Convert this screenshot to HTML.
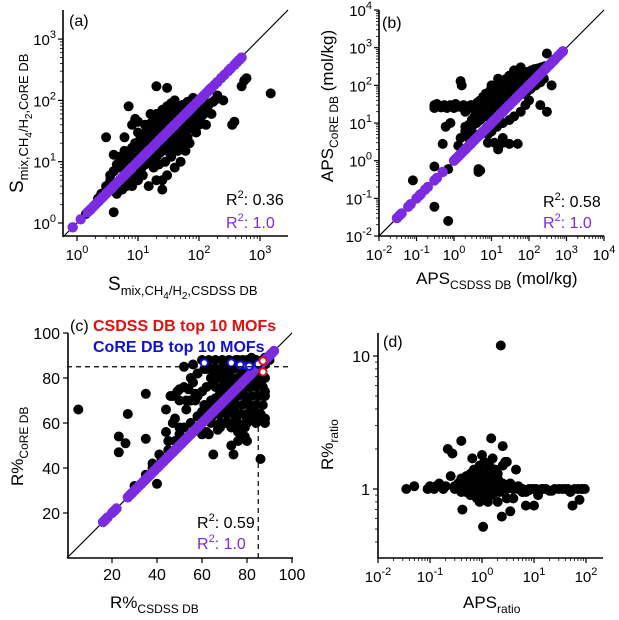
<!DOCTYPE html>
<html><head><meta charset="utf-8">
<style>
html,body{margin:0;padding:0;background:#fff;}
svg{display:block;font-family:"Liberation Sans",Arial,sans-serif;}
</style></head>
<body>
<svg id="fig" width="619" height="620" viewBox="0 0 619 620" xmlns="http://www.w3.org/2000/svg">
<g id="pa"></g>
<g id="pb"></g>
<g id="pc"></g>
<g id="pd"></g>
</svg>
<script>
// ---------- data ----------
const aBlackX=[3,4,7,20,30,1500,550,600,500,350,380,250,200,25,10,8,5,6,4,5,7,8,9,10,12,15,18,20,25,30,35,40,50,60,70,80,100,120,90,70,60,50,40,30,25,20,15,12,10,10,12,15,20,25,30,35,40,50,15,20,25,30,40,50,60,80,100,3,3.5,2.5,5,6,8,10,12,18,22,28,35,45,55,65,75,90,110,130,150,180,6,9,13,16,22,28,45,55,70,30,20,12,8,6,40,60,15,25,35,45,130,160,110,14,17,11,7,1.4,2.2,3,
 4,5,6,7,8,9,11,13,16,19,23,27,32,38,45,55,65,80,4.5,5.5,6.5,7.5,8.5,10,11.5,13,15,17,20,24,28,33,39,47,57,68,6,7,8,9,10,11,13,15,17,20,23,27,32,38,45,53,62,75,5,6,7,9,11,13,16,19,23,28,34,41,50,60,72,85,3.5,4,4.5,5.5,12,14,16,18,21,24,26,29,33,37,42,48,52,58,63,75,85,95,140,170,200,7,9,11,13,16,19,23,27,31,36];
const aBlackY=[25,1.5,80,170,160,130,210,230,170,40,45,100,120,3.5,45,40,12,15,13,8,10,6,20,30,25,35,50,60,70,80,90,100,70,80,60,50,40,60,30,20,15,10,8,6,5,5,4,6,8,12,15,18,25,30,40,45,50,60,10,12,15,20,25,30,40,70,80,4,6,3,5,4,4,5,10,8,9,10,12,15,20,25,35,45,55,70,90,100,25,50,40,60,45,55,35,45,45,30,20,20,12,8,40,60,25,20,25,20,40,60,100,30,14,9,6,1.4,2.5,3.5,
 7,9,11,14,17,20,24,28,33,38,44,50,58,66,75,85,95,110,3,3.5,4,5,6,7,8,9,10,11,13,15,17,20,23,27,32,38,5,6,7,8,9,10,11,13,15,17,19,22,25,29,33,38,44,50,10,12,14,17,20,24,28,33,38,44,50,58,66,75,85,95,5,7,9,10,28,35,42,50,22,26,18,33,14,17,24,20,27,30,38,48,55,65,80,95,110,6,7,8,9,10,12,14,16,18,21];
const aPurple=[0.85,1.15,1.5,1.6,1.7,1.85,2,2.15,2.3,2.5,2.7,3,3.2,3.5,3.8,4,4.5,5,5.5,6,6.5,7,7.5,8,9,10,11,12,13,14,15,16,18,20,22,23,25,26,28,30,33,35,38,40,45,50,55,60,65,70,75,80,90,100,110,120,130,140,150,160,180,200,230,260,300,330,380,420,460,500];
const bBlackX=[0.3,0.3,0.4,0.5,0.6,0.8,1,0.3,0.7,0.5,0.08,0.3,0.7,1.5,1.6,4.5,4.5,5,0.8,0.6,1.3,15,20,30,50,15,300,400,300,200,1.2,2,3,2,3,4,5,6,8,10,12,15,20,25,30,40,50,60,80,100,120,150,200,5,6,8,10,12,15,20,25,30,40,50,60,80,100,150,3,4,5,7,9,12,18,25,35,45,70,90,110,140,180,250,8,10,14,20,30,40,60,80,100,2.5,3.5,1.5,2,10,15,25,40,60,12,20,8,
 0.35,0.45,0.55,0.65,0.9,1.1,1.4,1.8,2.2,2.8,3.5,4.2,5.5,7,9,11,14,17,22,28,35,45,55,70,90,120,160,6,7,9,11,13,16,19,23,27,32,38,45,55,65,80,95,115,140,170,210,260,4,5,6,7,8,10,12,14,17,20,24,29,35,42,50,60,75,90,110,130,160,3,4,5,6,8,10,12,14,17,21,26,32,40,50,65,85,7,9,12,15,18,22,27,33,40,48,58,70,2,2.5,3,3.5];
const bBlackY=[30,25,28,27,28,30,25,0.06,0.025,2.8,0.3,0.7,0.6,130,100,0.6,0.5,0.55,10,8,2.5,2.5,3,2.8,2.8,2,700,100,20,30,30,28,30,20,25,30,40,50,60,70,80,100,120,150,180,200,220,250,200,180,160,150,120,15,20,25,30,40,50,60,70,80,100,120,150,150,150,100,8,10,12,15,18,20,25,30,40,50,60,70,80,100,120,150,5,6,8,10,12,15,20,30,40,4,5,4,6,100,150,130,250,300,3,4,3,
 32,26,30,25,28,32,27,30,26,30,28,35,30,28,32,30,35,40,45,55,60,70,80,90,110,130,170,40,50,60,70,80,90,100,110,120,130,140,150,170,190,210,230,250,270,280,300,320,20,25,30,35,40,45,50,55,60,70,80,90,100,110,120,130,140,150,160,170,180,12,14,16,18,20,23,26,30,34,38,45,52,60,70,80,95,60,70,80,90,100,110,120,130,140,150,160,170,8,9,12,15];
const bPurple=[0.03,0.035,0.04,0.06,0.07,0.1,0.12,0.13,0.17,0.2,0.3,0.35,0.5,1,1.1,1.2,1.35,1.5,1.7,2,2.2,2.5,2.8,3,3.5,4,4.5,5,5.5,6,7,8,9,10,11,12,13,15,17,18,20,22,25,28,30,35,40,45,50,55,60,70,80,90,100,110,120,135,150,165,180,200,225,250,275,300,350,400,450,500,600,700,800];
const cBlackX=[5,27,23,23,26,35,35,40,45,44,47,50,86,80,74,65,73,60,52,56,18,30,35,38,42,45,48,50,52,55,58,60,62,64,66,68,70,72,74,76,78,80,82,84,86,88,55,58,60,62,65,68,70,72,75,78,80,82,84,86,88,60,63,66,69,72,75,78,81,84,87,50,55,60,65,70,75,80,85,88,58,64,70,76,82,88,62,68,74,80,86,66,72,78,84,90,56,48,53,57,63,67,71,76,79,83,
 60,63,66,69,72,75,78,81,84,87,62,65,68,71,74,77,80,83,86,64,67,70,73,76,79,82,85,88,66,69,72,75,78,81,84,87,70,73,76,79,82,85,88,72,75,78,81,84,87,55,58,61,64,67,70,46,49,52,55,58,61,64,67,70,73,76,79,68,71,74,77,80,83,86,60,64,68,72,76,80,84,88,64,68,72,76,80,84,88,54,57,53,50,47,44,41,38];
const cBlackY=[66,64,54,47,51,73,53,33,52,66,72,75,44,52,46,46,50,55,85,86,18,32,37,40,44,48,52,55,58,60,63,65,67,69,71,73,75,77,79,80,82,83,84,85,86,88,70,72,74,76,78,80,82,84,86,87,88,89,88,87,86,62,64,66,68,70,72,74,76,78,80,58,60,62,64,66,68,70,72,74,82,84,86,88,88,89,56,58,60,62,64,84,86,84,86,88,78,62,66,70,55,57,60,52,58,65,
 88,88,88,88,88,88,88,88,88,88,84,84,84,84,84,84,84,84,84,80,80,80,80,80,80,80,80,80,76,76,76,76,76,76,76,76,72,72,72,72,72,72,72,68,68,68,68,68,68,80,82,84,80,82,78,72,74,76,70,72,68,62,64,60,58,56,54,64,64,64,64,64,64,64,60,60,60,60,60,60,60,60,70,68,66,64,62,62,62,75,73,70,70,60,56,46,42];
const cPurple=[16,17,18,20,21,22,27,28,29,30,31,32,33,34,35,36,37,38,39,40,41,42,43,44,45,46,47,48,49,50,51,52,53,54,55,56,57,58,59,60,61,62,63,64,65,66,67,68,69,70,71,72,73,74,75,76,77,78,79,80,81,82,83,84,85,86,87,88,89,90,91,92];
const cBlueX=[61,73,77,80,81,85];
const cBlueY=[86.7,86.7,85.8,85.3,85.3,86.2];
const cRedX=[87.1,87.1];
const cRedY=[87.6,82.7];
const dX=[2.3,0.035,0.05,0.1,0.13,0.15,0.2,0.22,0.27,0.4,1.5,2.5,0.42,1.05,2.4,3.5,10,55,75,95,80,60,45,30,20,15,10,0.3,0.35,0.4,0.5,0.6,0.7,0.8,0.9,1,1.2,1.4,1.7,2,2.5,3,4,5,6,7,8,0.5,0.6,0.7,0.8,1,1.2,1.5,2,3,4,0.6,0.8,1,1.3,1.7,2.2,3,4,5,0.7,0.9,1.1,1.4,1.8,2.5,3,0.25,0.3,4.5,0.65,1,1.6,2.8,1.3,0.9,7,12,6,0.18,0.12,0.09,
 0.45,0.55,0.65,0.75,0.85,0.95,1.1,1.3,1.5,1.8,2.1,0.5,0.6,0.7,0.8,0.9,1,1.15,1.35,1.6,1.9,2.3,2.7,3.2,0.4,0.5,0.6,0.7,0.8,0.9,1,1.2,1.4,1.6,1.9,2.2,0.6,0.7,0.8,0.9,1.05,1.2,1.4,1.7,2,0.35,0.45,3.5,4,5,6,8,9,11,14,17,22,25,35,40,50,70,85];
const dY=[12,1,1.05,1.05,1.05,1.1,1.05,2,1.85,2.3,2.4,2.1,0.7,0.52,0.62,0.68,0.75,0.75,0.83,1,1,1,1,1,0.97,1,1,1.05,1.1,1.2,1.25,1.1,1.2,1.3,1.1,1.2,1.3,1.25,1.2,1.2,1.1,1.05,1,1.05,1,0.95,1,0.95,0.9,0.95,0.85,0.9,0.85,0.9,0.8,0.85,0.85,1,1,1,1,1,1,1,1,1,1.4,1.5,1.6,1.5,1.4,1.5,1.6,1.25,1,1.4,1.7,1.8,1.7,1.6,0.8,0.8,0.75,0.9,0.95,1,1,1,
 1.15,1.15,1.15,1.15,1.15,1.15,1.15,1.15,1.15,1.15,1.15,1.05,1.05,1.05,1.05,1.05,1.05,1.05,1.05,1.05,1.05,1.05,1.05,1.05,0.95,0.95,0.95,0.95,0.95,0.95,0.95,0.95,0.95,0.95,0.95,0.95,1.3,1.35,1.3,1.35,1.3,1.35,1.3,1.35,1.3,1.1,1.1,1.1,1.05,1,0.95,0.98,1,1,1,1,0.97,1,1,1,0.95,1,1];
// ---------- helpers ----------
const NS="http://www.w3.org/2000/svg";
function mk(parent,tag,attrs){const e=document.createElementNS(NS,tag);for(const k in attrs)e.setAttribute(k,attrs[k]);parent.appendChild(e);return e;}
function logS(p0,v0,ppd){return v=>p0+ppd*(Math.log10(v)-v0);}
function linS(p0,ppu){return v=>p0+ppu*v;}
function dots(g,xs,ys,sx,sy,fill,name,stroke,r){
  for(let i=0;i<xs.length;i++){
    const c=mk(g,'circle',{cx:sx(xs[i]).toFixed(1),cy:sy(ys[i]).toFixed(1),r:r||(stroke?3.6:5),fill:fill});
    if(stroke){c.setAttribute('stroke',stroke);c.setAttribute('stroke-width','2');}
    
    
  }
}
function axes(g,x0,y0,x1,y1){
  const p=mk(g,'path',{d:`M${x0} ${y1}V${y0}H${x1}`,stroke:'#000','stroke-width':'1.6',fill:'none'});
  
  
}
function txt(g,x,y,html,opts){
  const t=mk(g,'text',Object.assign({x:x,y:y,'font-size':15,fill:'#000'},opts||{}));
  t.innerHTML=html;return t;
}
function logTicks(g,axis,s,lo,hi,fixed,labels,lblOff){
  for(let e=lo;e<=hi;e++){
    const p=s(Math.pow(10,e));
    if(axis==='x'){mk(g,'line',{x1:p,x2:p,y1:fixed,y2:fixed+5,stroke:'#000','stroke-width':1.2});}
    else{mk(g,'line',{x1:fixed,x2:fixed-5,y1:p,y2:p,stroke:'#000','stroke-width':1.2});}
    if(e<hi){for(let m=2;m<10;m++){const q=s(m*Math.pow(10,e));
      if(axis==='x')mk(g,'line',{x1:q,x2:q,y1:fixed,y2:fixed+3,stroke:'#000','stroke-width':0.8});
      else mk(g,'line',{x1:fixed,x2:fixed-3,y1:q,y2:q,stroke:'#000','stroke-width':0.8});}}
    if(labels){
      let t;
      if(axis==='x')t=txt(g,p,fixed+lblOff,`10<tspan dy="-7" font-size="11">${e}</tspan>`,{'text-anchor':'middle'});
      else t=txt(g,fixed-lblOff,p+6,`10<tspan dy="-7" font-size="11">${e}</tspan>`,{'text-anchor':'end'});
      
      
    }
  }
}
const purple='#7b2be0';
// ---------- panel a ----------
(function(){
  const g=document.getElementById('pa');
  const sx=logS(77,0,61),sy=logS(223,0,-61.3);
  axes(g,63,236,288,10);
  logTicks(g,'x',sx,0,3,236,true,24);
  logTicks(g,'y',sy,0,3,63,true,7);
  const d=mk(g,'line',{x1:63,y1:237,x2:288,y2:10,stroke:'#000','stroke-width':1.2});
  
  
  dots(g,aBlackX,aBlackY,sx,sy,'#000','black-point');
  dots(g,aPurple,aPurple,sx,sy,purple,'purple-point',null,5.2);
  txt(g,69,26,'(a)',{'font-size':16});
  txt(g,226,205,'R<tspan dy="-7" font-size="11">2</tspan><tspan dy="7">: 0.36</tspan>',{'font-size':16});
  txt(g,226,228,'R<tspan dy="-7" font-size="11">2</tspan><tspan dy="7">: 1.0</tspan>',{'font-size':16,fill:purple});
  txt(g,108,290,'S<tspan font-size="13" dy="5">mix,CH</tspan><tspan font-size="10" dy="4">4</tspan><tspan font-size="13" dy="-4">/H</tspan><tspan font-size="10" dy="4">2</tspan><tspan font-size="13" dy="-4">,CSDSS DB</tspan>',{'font-size':19});
  txt(g,0,0,'S<tspan font-size="13" dy="5">mix,CH</tspan><tspan font-size="10" dy="4">4</tspan><tspan font-size="13" dy="-4">/H</tspan><tspan font-size="10" dy="4">2</tspan><tspan font-size="13" dy="-4">,CoRE DB</tspan>',{'font-size':19,transform:'translate(23,193) rotate(-90)'});
})();
// ---------- panel b ----------
(function(){
  const g=document.getElementById('pb');
  const sx=logS(454,0,37.5),sy=logS(160.7,0,-37.67);
  axes(g,379,236,604,10);
  logTicks(g,'x',sx,-2,4,236,true,24);
  logTicks(g,'y',sy,-2,4,379,true,7);
  const d=mk(g,'line',{x1:379,y1:236,x2:604,y2:10,stroke:'#000','stroke-width':1.2});
  
  
  dots(g,bBlackX,bBlackY,sx,sy,'#000','black-point');
  dots(g,bPurple,bPurple,sx,sy,purple,'purple-point',null,5.2);
  txt(g,382,28,'(b)',{'font-size':16});
  txt(g,543,207,'R<tspan dy="-7" font-size="11">2</tspan><tspan dy="7">: 0.58</tspan>',{'font-size':16});
  txt(g,543,228,'R<tspan dy="-7" font-size="11">2</tspan><tspan dy="7">: 1.0</tspan>',{'font-size':16,fill:purple});
  txt(g,416,284,'APS<tspan font-size="12" dy="5">CSDSS DB</tspan><tspan dy="-5"> (mol/kg)</tspan>',{'font-size':17});
  txt(g,0,0,'APS<tspan font-size="12" dy="5">CoRE DB</tspan><tspan dy="-5">  (mol/kg)</tspan>',{'font-size':17,transform:'translate(333,182) rotate(-90)'});
})();
// ---------- panel c ----------
(function(){
  const g=document.getElementById('pc');
  const sx=linS(67,2.25),sy=linS(558,-2.25);
  axes(g,68,558,293,333);
  [20,40,60,80,100].forEach(v=>{
    mk(g,'line',{x1:sx(v),x2:sx(v),y1:558,y2:563,stroke:'#000','stroke-width':1.2});
    mk(g,'line',{x1:68,x2:63,y1:sy(v),y2:sy(v),stroke:'#000','stroke-width':1.2});
    const a=txt(g,sx(v),580,v,{'text-anchor':'middle','font-size':16});
    
    const b=txt(g,60,sy(v)+6,v,{'text-anchor':'end','font-size':16});
    
  });
  const d=mk(g,'line',{x1:sx(0),y1:sy(0),x2:sx(100),y2:sy(100),stroke:'#000','stroke-width':1.2});
  
  
  dots(g,cBlackX,cBlackY,sx,sy,'#000','black-point');
  dots(g,cPurple,cPurple,sx,sy,purple,'purple-point',null,5.2);
  dots(g,cBlueX,cBlueY,sx,sy,'#fff','core-top10-point','#1010d0');
  dots(g,cRedX,cRedY,sx,sy,'#fff','csdss-top10-point','#e01010');
  const h=mk(g,'line',{x1:sx(0),x2:sx(100),y1:sy(85),y2:sy(85),stroke:'#000','stroke-width':1.2,'stroke-dasharray':'5,4'});
  
  const v=mk(g,'line',{x1:sx(85),x2:sx(85),y1:sy(0),y2:sy(85),stroke:'#000','stroke-width':1.2,'stroke-dasharray':'5,4'});
  
  txt(g,70,331,'(c)',{'font-size':16});
  txt(g,93,331,'CSDSS DB top 10 MOFs',{'font-size':16,'font-weight':'bold',fill:'#e01010'});
  txt(g,93,352,'CoRE DB top 10 MOFs',{'font-size':16,'font-weight':'bold',fill:'#1010d0'});
  txt(g,197,528,'R<tspan dy="-7" font-size="11">2</tspan><tspan dy="7">: 0.59</tspan>',{'font-size':16});
  txt(g,197,549,'R<tspan dy="-7" font-size="11">2</tspan><tspan dy="7">: 1.0</tspan>',{'font-size':16,fill:purple});
  txt(g,110,608,'R%<tspan font-size="12" dy="5">CSDSS DB</tspan>',{'font-size':17});
  txt(g,0,0,'R%<tspan font-size="12" dy="5">CoRE DB</tspan>',{'font-size':17,transform:'translate(23,486) rotate(-90)'});
})();
// ---------- panel d ----------
(function(){
  const g=document.getElementById('pd');
  const sx=logS(482,0,52),sy=logS(489,0,-133);
  axes(g,378,558,603,333);
  logTicks(g,'x',sx,-2,2,558,true,24);
  [1,10].forEach(v=>{
    mk(g,'line',{x1:378,x2:373,y1:sy(v),y2:sy(v),stroke:'#000','stroke-width':1.2});
    const t=txt(g,370,sy(v)+6,v,{'text-anchor':'end','font-size':16});
    
  });
  [0.4,0.5,0.6,0.7,0.8,0.9,2,3,4,5,6,7,8,9].forEach(v=>mk(g,'line',{x1:378,x2:375,y1:sy(v),y2:sy(v),stroke:'#000','stroke-width':0.8}));
  dots(g,dX,dY,sx,sy,'#000','black-point');
  txt(g,383,347,'(d)',{'font-size':16});
  txt(g,463,608,'APS<tspan font-size="12" dy="5">ratio</tspan>',{'font-size':17});
  txt(g,0,0,'R%<tspan font-size="12" dy="5">ratio</tspan>',{'font-size':17,transform:'translate(333,470) rotate(-90)'});
})();
</script>
</body></html>
